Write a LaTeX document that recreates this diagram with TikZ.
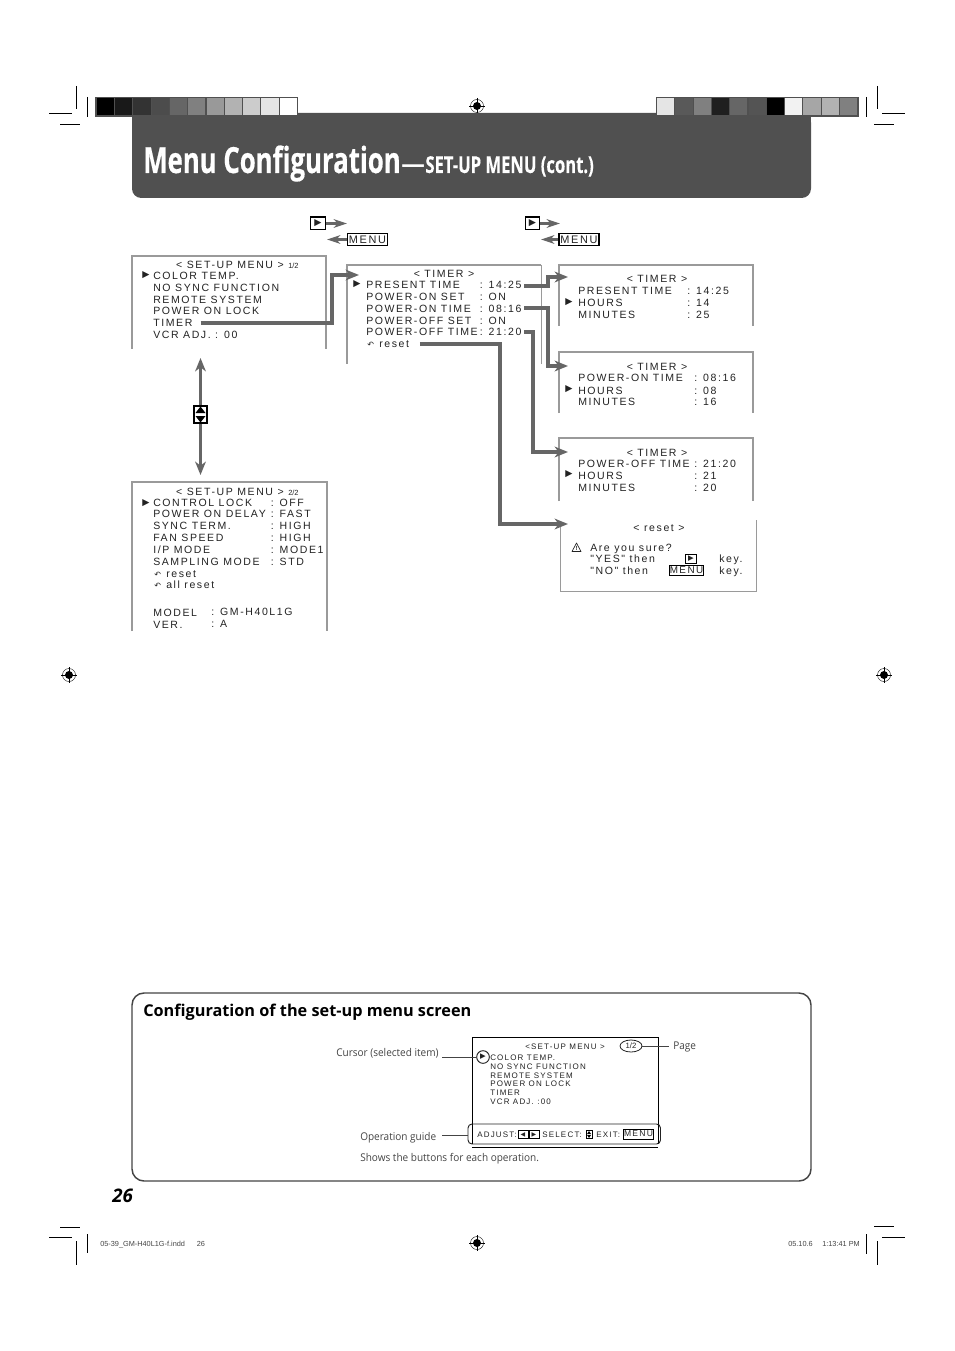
\documentclass[tikz,border=0pt]{standalone}
\usepackage{fontspec}
\usepackage{tikz}
\usepackage{xcolor}
\usetikzlibrary{calc,arrows.meta,positioning,shapes.geometric}
\setmainfont{Open Sans}
\newfontfamily\screenfont[LetterSpace=15]{Liberation Sans}
\newfontfamily\plainfont{Liberation Sans}
\newfontfamily\symbolfont{DejaVu Sans}
\newfontfamily\titlefont[FakeStretch=0.716,BoldFeatures={FakeBold=0.4}]{Open Sans}
\newfontfamily\notefont[FakeStretch=0.94]{Open Sans}
\definecolor{banner}{HTML}{505050}
\definecolor{flowgray}{HTML}{666666}
\definecolor{panelgray}{HTML}{9A9A9A}
\definecolor{inkgray}{HTML}{222222}
\definecolor{notegray}{HTML}{444444}
\newcommand{\swatch}[2]{\fill[#2] (#1,98) rectangle ++(17.2,17);}
\newcommand{\regmark}[2]{%
    \draw[line width=0.3pt, black] (#1,#2) circle (6.5);
    \fill[black] (#1,#2) circle (4);
    \draw[line width=0.7pt, white] (#1-5,#2) -- (#1+5,#2);
    \draw[line width=0.7pt, white] (#1,#2-5) -- (#1,#2+5);
    \draw[line width=0.3pt, black] (#1-8,#2) -- (#1+8,#2);
    \draw[line width=0.3pt, black] (#1,#2-8) -- (#1,#2+8);
}

\begin{document}
\begin{tikzpicture}[x=0.75pt, y=-0.75pt,
    flowline/.style={line width=2.4pt, draw=flowgray, -{Stealth[length=10pt,width=8pt,inset=3pt]}},
    keyflow/.style={line width=1.9pt, draw=flowgray, -{Stealth[length=10pt,width=6.5pt,inset=3pt]}},
    panel/.style={line width=0.7pt, panelgray},
    panelhead/.style={line width=0.9pt, panelgray},
    printmark/.style={line width=0.6pt, black},
    item/.style={anchor=base west, inner sep=0pt, text=inkgray, font=\screenfont\fontsize{7.9}{9}\selectfont},
    head/.style={anchor=base, inner sep=0pt, text=inkgray, font=\screenfont\fontsize{7.9}{9}\selectfont},
    tiny/.style={anchor=base west, inner sep=0pt, text=inkgray, font=\plainfont\fontsize{5.6}{7}\selectfont},
    miniitem/.style={anchor=base west, inner sep=0pt, text=inkgray, font=\screenfont\fontsize{6}{7}\selectfont},
    pointer/.style={anchor=center, inner sep=0pt, text=inkgray, font=\symbolfont\fontsize{7}{8}\selectfont},
    back/.style={anchor=base west, inner sep=0pt, text=inkgray, font=\symbolfont\fontsize{6}{8}\selectfont},
    keybox/.style={draw=black, line width=0.8pt, fill=white, inner sep=0pt, text=inkgray, minimum height=9.4pt, font=\screenfont\fontsize{8.2}{9}\selectfont},
    note/.style={anchor=base west, inner sep=0pt, text=notegray, font=\notefont\fontsize{8}{10}\selectfont},
    footer/.style={anchor=base west, inner sep=0pt, text=notegray, font=\plainfont\fontsize{5.5}{6}\selectfont}
]
    \useasboundingbox (0,0) rectangle (954,1351);

    % Printer marks
    \draw[printmark] (76,86) -- (76,109);
    \draw[printmark] (49,113) -- (72,113);
    \draw[printmark] (87,97) -- (87,117);
    \draw[printmark] (60,124) -- (80,124);
    \draw[printmark] (877,86) -- (877,109);
    \draw[printmark] (882,113) -- (905,113);
    \draw[printmark] (866,97) -- (866,117);
    \draw[printmark] (874,124) -- (894,124);
    \draw[printmark] (60,1227) -- (80,1227);
    \draw[printmark] (49,1237) -- (72,1237);
    \draw[printmark] (87,1234) -- (87,1253);
    \draw[printmark] (76,1241) -- (76,1265);
    \draw[printmark] (874,1226) -- (894,1226);
    \draw[printmark] (882,1237) -- (905,1237);
    \draw[printmark] (866,1234) -- (866,1254);
    \draw[printmark] (877,1241) -- (877,1265);
    \regmark{477}{106}
    \regmark{69}{675}
    \regmark{884}{675}
    \regmark{477}{1243}

    % Title banner
    \fill[banner, rounded corners=7pt] (132,113) -- (811,113) -- (811,198) -- (132,198) -- cycle;
    \fill[banner] (132,113) rectangle (811,140);
    \node[anchor=base west, inner sep=0pt, text=white, font=\titlefont\bfseries\fontsize{27}{30}\selectfont] (title) at (143,173) {Menu Configuration};
    \node[anchor=base west, inner sep=0pt, text=white, font=\bfseries\fontsize{17.7}{20}\selectfont] (subdash) at (title.base east) {—};
    \node[anchor=base west, inner sep=0pt, text=white, font=\titlefont\bfseries\fontsize{17.4}{20}\selectfont] (subtitle) at (subdash.base east) {SET-UP MENU (cont.)};

    % Colour bars
    \fill[banner] (95,97) rectangle (298,117);
    \swatch{96.7}{black}
    \swatch{115}{black!90}
    \swatch{133.3}{black!80}
    \swatch{151.6}{black!70}
    \swatch{169.9}{black!60}
    \swatch{188.2}{black!50}
    \swatch{206.5}{black!40}
    \swatch{224.8}{black!30}
    \swatch{243.1}{black!20}
    \swatch{261.4}{black!10}
    \swatch{279.7}{white}
    \fill[banner] (656,97) rectangle (859,117);
    \swatch{657}{black!10}
    \swatch{675.3}{black!65}
    \swatch{693.6}{black!50}
    \swatch{711.9}{black!88}
    \swatch{730.2}{black!60}
    \swatch{748.5}{black!67}
    \swatch{766.8}{black}
    \swatch{785.1}{black!5}
    \swatch{803.4}{black!35}
    \swatch{821.7}{black!30}
    \swatch{840}{black!50}

    % Keys above the menus
    \node[keybox, minimum width=11pt, line width=1.1pt] (playA) at (318,223.5) {\symbolfont\fontsize{7}{8}\selectfont ▶};
    \node[keybox, minimum width=30.5pt] (menuA) at (367.5,239.5) {MENU};
    \node[keybox, minimum width=10.5pt, line width=1.1pt] (playB) at (532.5,223.5) {\symbolfont\fontsize{7}{8}\selectfont ▶};
    \node[keybox, minimum width=30pt] (menuB) at (579,239.5) {MENU};
    \coordinate (playAend) at (347,223.5);
    \coordinate (menuAend) at (327,239.5);
    \coordinate (playBend) at (560,223.5);
    \coordinate (menuBend) at (541,239.5);
    \draw[keyflow] (playA.east) -- (playAend);
    \draw[keyflow] (menuA.west) -- (menuAend);
    \draw[keyflow] (playB.east) -- (playBend);
    \draw[keyflow] (menuB.west) -- (menuBend);

    % Menu page 1
    \draw[panelhead] (132,349) -- (132,256) -- (326,256) -- (326,349);
    \node[head] (setupA) at (230,269) {< SET-UP MENU >};
    \node[tiny] (pageA) at (288,269) {1/2};
    \node[pointer] (curA) at (146,275.5) {▶};
    \node[item] (color) at (153,279.7) {COLOR TEMP.};
    \node[item] (nosync) at (153,291.7) {NO SYNC FUNCTION};
    \node[item] (remote) at (153,303.7) {REMOTE SYSTEM};
    \node[item] (lock) at (153,314.7) {POWER ON LOCK};
    \node[item] (timer) at (153,326.7) {TIMER};
    \node[item] (vcr) at (153,338.7) {VCR ADJ. : 00};

    % Menu page 2
    \draw[panelhead] (132,631) -- (132,482) -- (327,482) -- (327,631);
    \node[head] (setupB) at (230,495) {< SET-UP MENU >};
    \node[tiny] (pageB) at (288,495) {2/2};
    \node[pointer] (curB) at (146,503) {▶};
    \node[item] (ctrl) at (153,506) {CONTROL LOCK};
    \node[item] (delay) at (153,517.5) {POWER ON DELAY};
    \node[item] (sync) at (153,529) {SYNC TERM.};
    \node[item] (fan) at (153,541) {FAN SPEED};
    \node[item] (ipmode) at (153,553) {I/P MODE};
    \node[item] (sampling) at (153,565.5) {SAMPLING MODE};
    \node[item] at (270.5,506) {: OFF};
    \node[item] at (270.5,517.5) {: FAST};
    \node[item] at (270.5,529) {: HIGH};
    \node[item] at (270.5,541) {: HIGH};
    \node[item] at (270.5,553) {: MODE1};
    \node[item] at (270.5,565.5) {: STD};
    \node[back] at (154,577) {↶};
    \node[item] (resetB) at (166,577) {reset};
    \node[back] at (154,588) {↶};
    \node[item] (allreset) at (166,588) {all reset};
    \node[item] (model) at (153,616) {MODEL};
    \node[item] (ver) at (153,628) {VER.};
    \node[item] at (211,615) {: GM-H40L1G};
    \node[item] at (211,627) {: A};

    % Page key and its double arrow
    \node[draw=black, line width=1.6pt, fill=white, minimum width=10pt, minimum height=12.5pt, inner sep=0pt] (updown) at (200.5,414.5) {};
    \coordinate (pageUp) at (200.5,358);
    \coordinate (pageDown) at (200.5,475);
    \draw[flowline] (updown.north) -- (pageUp);
    \draw[flowline] (updown.south) -- (pageDown);
    \fill[black] (200.5,406.5) -- (205.5,413) -- (195.5,413) -- cycle;
    \fill[black] (200.5,422.5) -- (205.5,416) -- (195.5,416) -- cycle;

    % Timer menu
    \draw[panelhead] (347,364) -- (347,265) -- (541,265);
    \draw[panel] (541,265) -- (541,364);
    \node[head] (timerT) at (444,278) {< TIMER >};
    \node[pointer] (curT) at (357,284.5) {▶};
    \node[item] (present) at (366,289) {PRESENT TIME};
    \node[item] (onset) at (366,301) {POWER-ON SET};
    \node[item] (ontime) at (366,313) {POWER-ON TIME};
    \node[item] (offset) at (366,325) {POWER-OFF SET};
    \node[item] (offtime) at (366,336) {POWER-OFF TIME};
    \node[item] (vPresent) at (479.5,289) {: 14:25};
    \node[item] at (479.5,301) {: ON};
    \node[item] (vOntime) at (479.5,313) {: 08:16};
    \node[item] at (479.5,325) {: ON};
    \node[item] (vOfftime) at (479.5,336) {: 21:20};
    \node[back] at (367,348) {↶};
    \node[item] (resetT) at (379,348) {reset};

    % Present time panel
    \draw[panelhead] (559,326) -- (559,265) -- (753,265) -- (753,326);
    \node[head] (timerP) at (657,283) {< TIMER >};
    \node[item] (timeP) at (578,295) {PRESENT TIME};
    \node[pointer] (curP) at (569,302) {▶};
    \node[item] (hoursP) at (578,307) {HOURS};
    \node[item] (minsP) at (578,319) {MINUTES};
    \node[item] at (687,295) {: 14:25};
    \node[item] at (687,307) {: 14};
    \node[item] at (687,319) {: 25};

    % Power-on panel
    \draw[panelhead] (559,413) -- (559,352) -- (753,352) -- (753,413);
    \node[head] (timerN) at (657,371) {< TIMER >};
    \node[item] (timeN) at (578,382) {POWER-ON TIME};
    \node[pointer] (curN) at (569,389) {▶};
    \node[item] (hoursN) at (578,394) {HOURS};
    \node[item] (minsN) at (578,406) {MINUTES};
    \node[item] at (694,382) {: 08:16};
    \node[item] at (694,394) {: 08};
    \node[item] at (694,406) {: 16};

    % Power-off panel
    \draw[panelhead] (559,501) -- (559,438) -- (753,438) -- (753,501);
    \node[head] (timerF) at (657,456) {< TIMER >};
    \node[item] (timeF) at (578,467) {POWER-OFF TIME};
    \node[pointer] (curF) at (569,474) {▶};
    \node[item] (hoursF) at (578,479) {HOURS};
    \node[item] (minsF) at (578,491) {MINUTES};
    \node[item] at (694,467) {: 21:20};
    \node[item] at (694,479) {: 21};
    \node[item] at (694,491) {: 20};

    % Reset panel
    \draw[panel] (560,524) -- (560,591) -- (756,591) -- (756,520);
    \node[head] (resetH) at (659,531) {< reset >};
    \draw[line width=0.5pt, inkgray, line join=round] (576.5,543) -- (581,551.5) -- (572,551.5) -- cycle;
    \node[inner sep=0pt, text=inkgray, font=\plainfont\bfseries\fontsize{4.5}{5}\selectfont] (warn) at (576.5,548) {!};
    \node[item] (sure) at (590,551) {Are you sure?};
    \node[item] (yes) at (590,562.5) {"YES" then};
    \node[item] (no) at (590,574) {"NO" then};
    \node[draw=black, line width=0.6pt, inner sep=0pt, minimum width=8.5pt, minimum height=6.5pt, pointer] (playR) at (691,559) {\fontsize{5.5}{6}\selectfont ▶};
    \node[keybox, font=\screenfont\fontsize{7.4}{8}\selectfont, minimum height=7.5pt] (menuR) at (686.5,570.5) {MENU};
    \node[item] (keyY) at (719,562.5) {key.};
    \node[item] (keyN) at (719,574) {key.};

    % Arrows between the menus
    \coordinate (inTimer) at (359,275);
    \coordinate (inPresent) at (568,277);
    \coordinate (inPoweron) at (568,366);
    \coordinate (inPoweroff) at (568,452);
    \coordinate (inReset) at (568,524);
    \draw[flowline] ([xshift=6pt]timer.east |- 0,323) -- (332,323) -- (332,275) -- (inTimer);
    \draw[flowline] ([xshift=2pt]vPresent.east |- 0,286) -- (548,286) -- (548,277) -- (inPresent);
    \draw[flowline] ([xshift=2pt]vOntime.east |- 0,308) -- (548,308) -- (548,366) -- (inPoweron);
    \draw[flowline] ([xshift=2pt]vOfftime.east |- 0,332) -- (533,332) -- (533,452) -- (inPoweroff);
    \draw[flowline] ([xshift=8pt]resetT.east |- 0,344) -- (500,344) -- (500,524) -- (inReset);

    % Configuration box
    \draw[line width=1.1pt, notegray, rounded corners=9pt] (132,993) rectangle (811,1181);
    \node[anchor=base west, inner sep=0pt, text=black, font=\bfseries\fontsize{12.2}{15}\selectfont] (cfgHead) at (143,1016.5) {Configuration of the set-up menu screen};
    \node[anchor=base west, inner sep=0pt, text=black, font=\itshape\bfseries\fontsize{14}{16}\selectfont] (pageNo) at (112,1202) {26};

    % Screen example
    \draw[line width=0.7pt, black] (472,1144) -- (472,1037) -- (658,1037) -- (658,1144);
    \draw[line width=0.7pt, black] (472,1147) -- (658,1147);
    \node[anchor=base, inner sep=0pt, text=inkgray, font=\screenfont\fontsize{6}{7}\selectfont] (miniHead) at (565,1049) {<SET-UP MENU >};
    \node[draw=inkgray, line width=0.6pt, ellipse, inner sep=0pt, minimum width=16.5pt, minimum height=9pt, text=inkgray, font=\plainfont\fontsize{5.8}{7}\selectfont] (pageTag) at (631,1046) {1/2};
    \node[draw=inkgray, line width=0.7pt, circle, inner sep=0pt, minimum size=9.5pt, text=inkgray, font=\symbolfont\fontsize{5.5}{6}\selectfont] (cursorRing) at (483,1057) {▶};
    \node[miniitem] (mColor) at (490,1060) {COLOR TEMP.};
    \node[miniitem] (mNosync) at (490,1069) {NO SYNC FUNCTION};
    \node[miniitem] (mRemote) at (490,1078) {REMOTE SYSTEM};
    \node[miniitem] (mLock) at (490,1086) {POWER ON LOCK};
    \node[miniitem] (mTimer) at (490,1095) {TIMER};
    \node[miniitem] (mVcr) at (490,1104) {VCR ADJ. :00};

    % Operation guide
    \draw[line width=0.7pt, inkgray, rounded corners=3pt] (468,1124) rectangle (660.5,1144);
    \coordinate (guide) at (468,1135);
    \node[miniitem, anchor=base west] (gAdjust) at (477,1137) {ADJUST:};
    \node[draw=black, line width=0.6pt, inner sep=0pt, minimum width=7.4pt, minimum height=5.6pt, pointer, font=\symbolfont\fontsize{4.5}{5}\selectfont] (gLeft) at (523,1134.5) {◀};
    \node[draw=black, line width=0.6pt, inner sep=0pt, minimum width=7.4pt, minimum height=5.6pt, pointer, font=\symbolfont\fontsize{4.5}{5}\selectfont] (gRight) at (534,1134.5) {▶};
    \node[miniitem, anchor=base west] (gSelect) at (542,1137) {SELECT:};
    \node[draw=black, line width=0.6pt, inner sep=0pt, minimum width=4.5pt, minimum height=5.6pt] (gUpdown) at (589,1134.5) {};
    \fill[black] (589,1131) -- (591,1134) -- (587,1134) -- cycle;
    \fill[black] (589,1138) -- (591,1135) -- (587,1135) -- cycle;
    \node[miniitem, anchor=base west] (gExit) at (596,1137) {EXIT:};
    \node[draw=black, line width=0.6pt, inner sep=0pt, minimum width=23pt, minimum height=7.6pt, text=inkgray, font=\screenfont\fontsize{6.4}{7}\selectfont] (gMenu) at (638.5,1134) {MENU};

    % Callouts
    \node[note] (cursorLabel) at (336,1056) {Cursor (selected item)};
    \node[note] (pageLabel) at (673,1049) {Page};
    \node[note] (guideLabel) at (360,1140) {Operation guide};
    \node[note] (guideNote) at (360,1161) {Shows the buttons for each operation.};
    \coordinate (cursorEnd) at (442,1057);
    \coordinate (pageEnd) at (669,1046);
    \coordinate (guideEnd) at (442,1135);
    \draw[line width=0.6pt, notegray] (cursorRing.west) -- (cursorEnd);
    \draw[line width=0.6pt, notegray] (pageTag.east) -- (pageEnd);
    \draw[line width=0.6pt, notegray] (guide) -- (guideEnd);

    % Footer
    \node[footer] (slug) at (100,1246) {05-39\_GM-H40L1G-f.indd\hspace{1.6em}26};
    \node[footer] (stamp) at (788,1246) {05.10.6\hspace{1.3em}1:13:41 PM};

\end{tikzpicture}
\end{document}
